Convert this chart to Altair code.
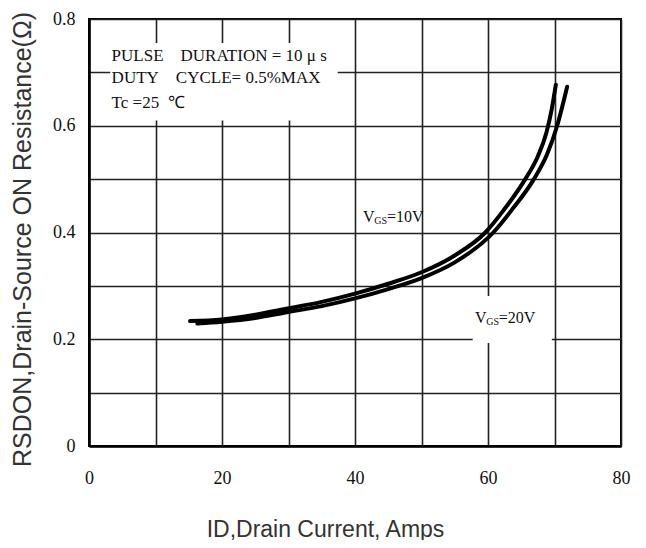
import altair as alt
import pandas as pd

# --- data ---
vgs10_id = [15.2, 20, 25, 30, 35, 40, 45, 50, 55, 59.6, 62.3, 65.6, 67.5, 68.8, 69.6, 70.2]
vgs10_r = [0.234, 0.237, 0.246, 0.258, 0.270, 0.2855, 0.304, 0.3255, 0.357, 0.400, 0.441, 0.500, 0.543, 0.588, 0.632, 0.677]
vgs20_id = [16.3, 20, 25, 30, 35, 40, 45, 50, 55, 60.8, 63.5, 66.9, 68.9, 70.4, 71.9]
vgs20_r = [0.2295, 0.233, 0.240, 0.251, 0.262, 0.2765, 0.294, 0.3145, 0.344, 0.400, 0.441, 0.500, 0.547, 0.600, 0.673]

x_ticks = [0, 10, 20, 30, 40, 50, 60, 70, 80]
y_ticks = [0, 0.1, 0.2, 0.3, 0.4, 0.5, 0.6, 0.7, 0.8]

NB = "\u00a0"
note_lines = [
    "PULSE" + NB * 4 + "DURATION = 10 μ s",
    "DUTY" + NB * 4 + "CYCLE= 0.5%MAX",
    "Tc =25" + NB * 2 + "℃",
]

curves = pd.concat([
    pd.DataFrame({"id": vgs10_id, "r": vgs10_r, "s": "VGS=10V"}),
    pd.DataFrame({"id": vgs20_id, "r": vgs20_r, "s": "VGS=20V"}),
])

X = alt.X("id:Q", scale=alt.Scale(domain=[0, 80], nice=False, zero=False),
          axis=alt.Axis(values=x_ticks, title="ID,Drain Current, Amps",
                        labelExpr="datum.value % 20 == 0 ? datum.label : ''",
                        grid=True, ticks=False, tickSize=0, labelPadding=23, labelFlush=False,
                        titleX=236, titleY=83, titleBaseline="middle", titleAlign="center",
                        titleFontSize=23))
Y = alt.Y("r:Q", scale=alt.Scale(domain=[0, 0.8], nice=False, zero=False),
          axis=alt.Axis(values=y_ticks, title="RSDON,Drain-Source ON Resistance(Ω)",
                        labelExpr="round(datum.value*10) % 2 == 0 ? format(datum.value, '~g') : ''",
                        grid=True, ticks=False, tickSize=0, labelPadding=14, labelFlush=False,
                        titleX=-67, titleY=220, titleBaseline="middle", titleAlign="center",
                        titleAngle=270, titleFontSize=25))

lines = alt.Chart(curves).mark_line(strokeWidth=4, interpolate="monotone", strokeCap="round").encode(
    x=X, y=Y,
    color=alt.Color("s:N", scale=alt.Scale(range=["#000000", "#000000"]), legend=None),
)

masks = alt.Chart(pd.DataFrame({
    "x1": [3.2, 57.7], "x2": [37.4, 69.6], "y1": [0.61, 0.193], "y2": [0.755, 0.281]
})).mark_rect(fill="white").encode(
    x="x1:Q", x2="x2:Q", y="y1:Q", y2="y2:Q"
)

notes = alt.Chart(pd.DataFrame({
    "t": note_lines, "x": [3.4, 3.4, 3.4], "y": [0.730, 0.689, 0.643]
})).mark_text(align="left", baseline="middle", font="Liberation Serif", fontSize=17,
              color="#111").encode(x="x:Q", y="y:Q", text="t:N")

# V_GS labels: "V", subscript "GS", "=..V"
lab_main = alt.Chart(pd.DataFrame({
    "t": ["V", "V"], "x": [41.2, 58.05], "y": [0.429, 0.24]
})).mark_text(align="left", baseline="middle", font="Liberation Serif", fontSize=16,
              color="#111").encode(x="x:Q", y="y:Q", text="t:N")
lab_sub = alt.Chart(pd.DataFrame({
    "t": ["GS", "GS"], "x": [42.9, 59.75], "y": [0.421, 0.232]
})).mark_text(align="left", baseline="middle", font="Liberation Serif", fontSize=10,
              color="#111").encode(x="x:Q", y="y:Q", text="t:N")
lab_val = alt.Chart(pd.DataFrame({
    "t": ["=10V", "=20V"], "x": [44.8, 61.6], "y": [0.429, 0.24]
})).mark_text(align="left", baseline="middle", font="Liberation Serif", fontSize=16,
              color="#111").encode(x="x:Q", y="y:Q", text="t:N")

chart = alt.layer(lines, masks, notes, lab_main, lab_sub, lab_val).properties(
    width=532, height=427,
    autosize=alt.AutoSizeParams(type="none"),
    padding={"left": 81, "top": 11, "right": 17, "bottom": 94},
).configure_view(
    stroke="#000", strokeWidth=2
).configure_axis(
    gridColor="#222", gridWidth=1.6, gridOpacity=1,
    domainColor="#000", domainWidth=2.5,
    labelFont="Liberation Serif", labelFontSize=18, labelColor="#111",
    titleFont="Liberation Sans", titleFontWeight="normal", titleColor="#333",
)

chart.save("out.html", embed_options={"renderer": "svg", "actions": False})
